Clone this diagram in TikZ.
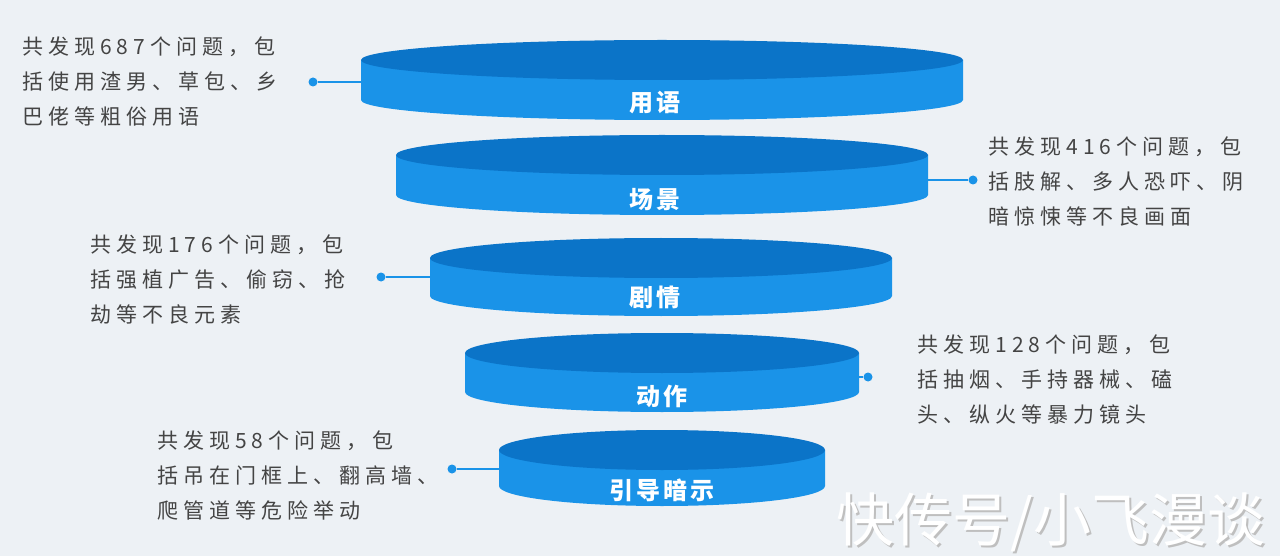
\documentclass[tikz,border=0pt]{standalone}
\usepackage{fontspec}
\newfontfamily\cjk{Noto Sans CJK SC}
\newfontfamily\cjkd[LetterSpace=24]{Noto Sans CJK SC}
\newfontfamily\cjkl[LetterSpace=12]{Noto Sans CJK SC}
\definecolor{sidec}{HTML}{1A93E8}
\definecolor{topc}{HTML}{0B74C8}
\definecolor{txt}{HTML}{444444}
\definecolor{bg}{HTML}{EDF1F5}
\tikzset{
 desc/.style={anchor=north west,align=left,text=txt,font=\cjkd\fontsize{21}{35}\selectfont,inner sep=0pt},
 lab/.style={text=white,font=\cjkl\bfseries\fontsize{24}{24}\selectfont},
 con/.style={draw=sidec,line width=2pt},
 dot/.style={circle,fill=sidec,inner sep=0pt,minimum size=9pt},
}
\newcommand{\disc}[5]{% cx rx ytop-center ybot-center name
 \fill[sidec] (#1-#2,#3) -- (#1-#2,#4) arc[start angle=180,end angle=0,x radius=#2,y radius=20] -- (#1+#2,#3) -- cycle;
 \fill[topc] (#1,#3) ellipse[x radius=#2,y radius=20];
}
\begin{document}
\begin{tikzpicture}[x=1pt,y=-1pt]
\fill[bg] (0,0) rectangle (1280,556);
\useasboundingbox (0,0) rectangle (1280,556);
\disc{662}{301}{60}{100}{d1}
\disc{662}{266}{155}{195}{d2}
\disc{661}{231}{258}{296}{d3}
\disc{662}{197}{353}{392}{d4}
\disc{662}{163}{450}{486}{d5}
\node[lab] (l1) at (655,103) {用语};
\node[lab] (l2) at (655,200) {场景};
\node[lab] (l3) at (655,297) {剧情};
\node[lab] (l4) at (662,396) {动作};
\node[lab] (l5) at (662,490) {引导暗示};
\node[dot] (p1) at (313,82) {}; \draw[con] (p1) -- (361,82);
\node[dot] (p2) at (973,180) {}; \draw[con] (p2) -- (928,180);
\node[dot] (p3) at (381,277) {}; \draw[con] (p3) -- (431,277);
\node[dot] (p4) at (868,377) {}; \draw[con] (p4) -- (859,377);
\node[dot] (p5) at (452,469) {}; \draw[con] (p5) -- (499,469);
\node[desc] (t1) at (22,37) {共发现687个问题，包\\括使用渣男、草包、乡\\巴佬等粗俗用语};
\node[desc] (t2) at (988,137) {共发现416个问题，包\\括肢解、多人恐吓、阴\\暗惊悚等不良画面};
\node[desc] (t3) at (90,235) {共发现176个问题，包\\括强植广告、偷窃、抢\\劫等不良元素};
\node[desc] (t4) at (917,335) {共发现128个问题，包\\括抽烟、手持器械、磕\\头、纵火等暴力镜头};
\node[desc] (t5) at (157,431) {共发现58个问题，包\\括吊在门框上、翻高墙、\\爬管道等危险举动};
\node[anchor=east,text=black!25,font=\cjk\fontsize{58}{58}\selectfont] at (1271,524) {快传号/小飞漫谈};
\node[anchor=east,text=white,font=\cjk\fontsize{58}{58}\selectfont] (wm) at (1269,522) {快传号/小飞漫谈};
\end{tikzpicture}
\end{document}
